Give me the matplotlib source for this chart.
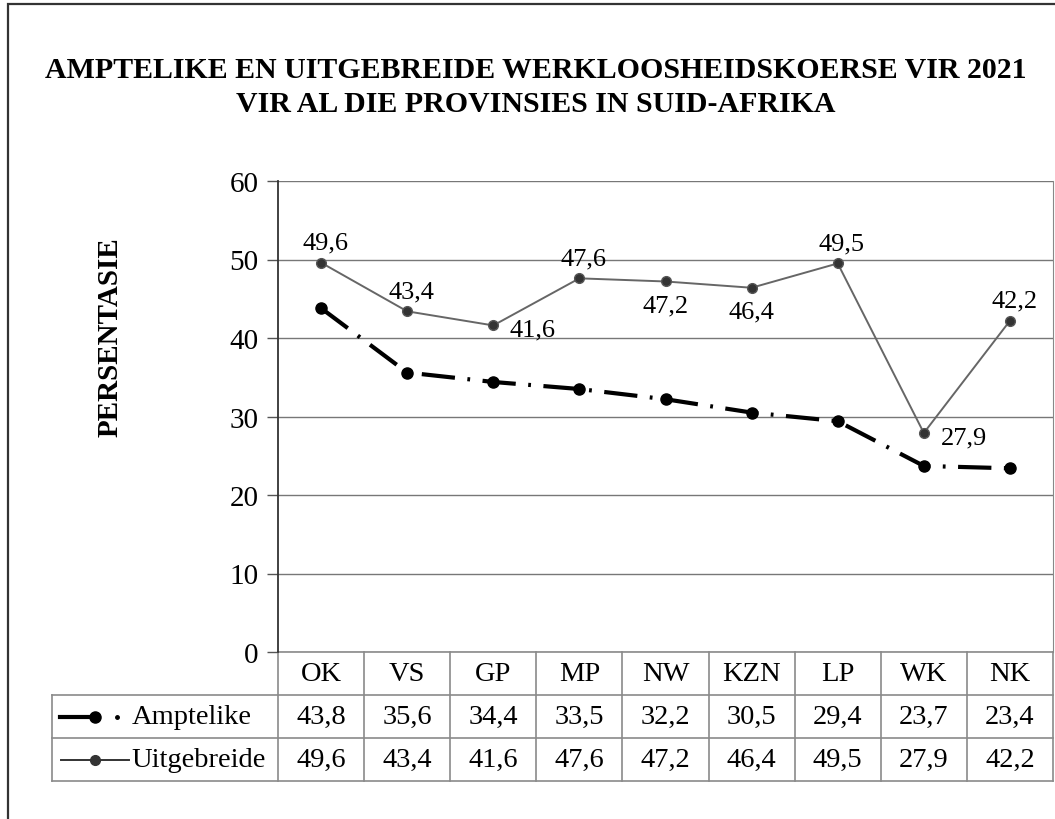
import numpy as np
import matplotlib
matplotlib.use('Agg')
import matplotlib.pyplot as plt
from matplotlib.transforms import blended_transform_factory
from matplotlib.lines import Line2D
from matplotlib.patches import Rectangle

plt.rcParams['font.family'] = ['Liberation Serif', 'DejaVu Serif']
plt.rcParams['lines.scale_dashes'] = False

# data
provinsies = ['OK', 'VS', 'GP', 'MP', 'NW', 'KZN', 'LP', 'WK', 'NK']
amptelike = [43.8, 35.6, 34.4, 33.5, 32.2, 30.5, 29.4, 23.7, 23.4]
uitgebreide = [49.6, 43.4, 41.6, 47.6, 47.2, 46.4, 49.5, 27.9, 42.2]
# where each label of Uitgebreide sits: above / below / right
label_pos = ['a', 'a', 'r', 'a', 'b', 'b', 'a', 'r', 'a']

W, H = 1055, 820
fig = plt.figure(figsize=(W / 100, H / 100), dpi=100)

# outer frame of the chart area (cut on the right and bottom like the scan)
fig.patches.append(Rectangle((8 / W, -0.05), 1.2, 1 - 5 / H + 0.05,
                             transform=fig.transFigure, fill=False,
                             ec='#333333', lw=1.6))

fig.text(536 / W, 1 - 70 / H, 'AMPTELIKE EN UITGEBREIDE WERKLOOSHEIDSKOERSE VIR 2021',
         ha='center', va='center', fontsize=21.5, fontweight='bold')
fig.text(536 / W, 1 - 104 / H, 'VIR AL DIE PROVINSIES IN SUID-AFRIKA',
         ha='center', va='center', fontsize=21.5, fontweight='bold')

left, right, top, bottom = 278, 1053, 182, 653
ax = fig.add_axes([left / W, 1 - bottom / H, (right - left) / W, (bottom - top) / H])

x = np.arange(len(provinsies))

ax.plot(x, uitgebreide, color='#666666', lw=1.4, marker='o', ms=7,
        mfc='#333333', mec='#555555', zorder=3)
ax.plot(x, amptelike, color='black', lw=3.0, dashes=(24, 9, 2, 9), marker='o',
        ms=8, mfc='black', mec='black', zorder=4)

for i, v in enumerate(uitgebreide):
    s = ('%.1f' % v).replace('.', ',')
    p = label_pos[i]
    if p == 'a':
        ax.annotate(s, (i, v), xytext=(3, 10), textcoords='offset points',
                    ha='center', va='baseline', fontsize=19)
    elif p == 'b':
        ax.annotate(s, (i, v), xytext=(0, -9), textcoords='offset points',
                    ha='center', va='top', fontsize=19)
    else:
        ax.annotate(s, (i, v), xytext=(12, -3), textcoords='offset points',
                    ha='left', va='center', fontsize=19)

ax.set_xlim(-0.5, len(provinsies) - 0.5)
ax.set_ylim(0, 60)
ax.set_yticks(range(0, 61, 10))
ax.set_xticks([])
ax.yaxis.grid(True, color='#777777', lw=1.0)
ax.set_axisbelow(True)
ax.tick_params(axis='y', labelsize=21, length=8, width=1, color='#555555', pad=6)
for sp in ['top', 'bottom']:
    ax.spines[sp].set_visible(False)
ax.spines['right'].set_color('#888888')
ax.spines['left'].set_color('#333333')
ax.spines['left'].set_linewidth(1.3)

fig.text(110 / W, 1 - 337 / H, 'PERSENTASIE', rotation=90, ha='center', va='center',
         fontsize=21, fontweight='bold')

# data table under the plot
tr = blended_transform_factory(ax.transData, ax.transAxes)
rh = 43 / (bottom - top)
n = len(provinsies)
legx = -0.5 - (left - 52) / ((right - left) / n)
lc = '#8a8a8a'

def hline(x0, x1, y):
    ax.add_line(Line2D([x0, x1], [y, y], transform=tr, color=lc, lw=1.2, clip_on=False))

def vline(xx, y0, y1):
    ax.add_line(Line2D([xx, xx], [y0, y1], transform=tr, color=lc, lw=1.2, clip_on=False))

hline(-0.5, n - 0.5, 0)
hline(legx, n - 0.5, -rh)
hline(legx, n - 0.5, -2 * rh)
hline(legx, n - 0.5, -3 * rh)
vline(legx, -3 * rh, -rh)
for k in range(n + 1):
    vline(k - 0.5, -3 * rh, 0)

for i, p in enumerate(provinsies):
    ax.text(i, -0.5 * rh, p, transform=tr, ha='center', va='center', fontsize=20.5)
    ax.text(i, -1.5 * rh, ('%.1f' % amptelike[i]).replace('.', ','), transform=tr,
            ha='center', va='center', fontsize=20.5)
    ax.text(i, -2.5 * rh, ('%.1f' % uitgebreide[i]).replace('.', ','), transform=tr,
            ha='center', va='center', fontsize=20.5)

# legend keys inside the table
y1 = 1 - (bottom + 1.5 * 43) / H
y2 = 1 - (bottom + 2.5 * 43) / H
fig.add_artist(Line2D([60 / W, 93 / W], [y1, y1], color='black', lw=3.0))
fig.add_artist(Line2D([95 / W], [y1], marker='o', ms=8, color='black'))
fig.add_artist(Line2D([117 / W], [y1], marker='o', ms=2.5, color='black'))
fig.text(132 / W, y1, 'Amptelike', ha='left', va='center', fontsize=20.5)
fig.add_artist(Line2D([61 / W, 129 / W], [y2, y2], color='#333333', lw=1.4))
fig.add_artist(Line2D([95 / W], [y2], marker='o', ms=7, mfc='#333333', mec='#333333'))
fig.text(131 / W, y2, 'Uitgebreide', ha='left', va='center', fontsize=20.5)

fig.savefig('out.png', dpi=100)
